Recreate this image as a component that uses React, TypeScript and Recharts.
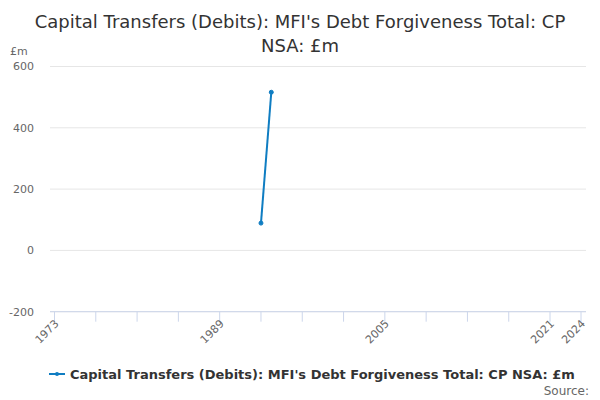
import React from "react";
import { LineChart, Line, XAxis, YAxis, CartesianGrid } from "recharts";

const years = [1993, 1994];
const values = [89, 516];
const xTicks = [1973, 1977, 1981, 1985, 1989, 1993, 1997, 2001, 2005, 2009, 2013, 2017, 2021, 2024];
const xLabels = [1973, 1989, 2005, 2021, 2024];
const yTicks = [-200, 0, 200, 400, 600];

const title1 = "Capital Transfers (Debits): MFI's Debt Forgiveness Total: CP";
const title2 = "NSA: £m";
const seriesName = "Capital Transfers (Debits): MFI's Debt Forgiveness Total: CP NSA: £m";
const unitLabel = "£m";
const sourceLabel = "Source:";

const data = years.map((y, i) => ({ year: y, value: values[i] }));

const FONT = '"DejaVu Sans", sans-serif';
const LINE_COLOR = "#0f7dc2";

const XTick = (props: any) => {
  const { x, y, payload } = props;
  if (!xLabels.includes(payload.value)) return null;
  return (
    <g transform={`translate(${x},${y})`}>
      <text
        x={0}
        y={0}
        dy={4}
        dx={3}
        textAnchor="end"
        transform="rotate(-45)"
        fill="#666666"
        fontSize={11}
        fontFamily={FONT}
      >
        {payload.value}
      </text>
    </g>
  );
};

export default function App() {
  return (
    <div style={{ position: "absolute", left: 0, top: 0, width: 600, height: 400, background: "#fff", fontFamily: FONT }}>
      <div style={{ position: "absolute", left: 0, top: 10, width: 600, textAlign: "center", fontSize: 18, color: "#333333", lineHeight: "24px" }}>
        <div>{title1}</div>
        <div>{title2}</div>
      </div>
      <div style={{ position: "absolute", left: 10, top: 45, fontSize: 11, color: "#666666" }}>{unitLabel}</div>
      <LineChart width={600} height={400} data={data} margin={{ top: 66.5, right: 14, left: 0, bottom: 0 }}>
        <CartesianGrid vertical={false} stroke="#e6e6e6" />
        <XAxis
          dataKey="year"
          type="number"
          domain={[1973, 2024]}
          ticks={xTicks}
          interval={0}
          padding={{ left: 4.5, right: 5 }}
          height={88.3}
          tickSize={10}
          tickLine={{ stroke: "#ccd6eb" }}
          axisLine={{ stroke: "#ccd6eb" }}
          tick={<XTick />}
        />
        <YAxis
          type="number"
          domain={[-200, 600]}
          ticks={yTicks}
          width={50}
          tickSize={0}
          tickMargin={16}
          axisLine={false}
          tickLine={false}
          tick={{ fill: "#666666", fontSize: 11, fontFamily: FONT }}
        />
        <Line
          dataKey="value"
          stroke={LINE_COLOR}
          strokeWidth={2}
          dot={{ r: 2, fill: LINE_COLOR, stroke: LINE_COLOR, strokeWidth: 1 }}
          isAnimationActive={false}
        />
      </LineChart>
      <div style={{ position: "absolute", left: 48, top: 366, display: "flex", alignItems: "center", fontSize: 13, fontWeight: "bold", color: "#333333" }}>
        <svg width={18} height={16} style={{ marginRight: 4 }}>
          <line x1={1} y1={8} x2={17} y2={8} stroke={LINE_COLOR} strokeWidth={2} />
          <circle cx={9} cy={8} r={2} fill={LINE_COLOR} />
        </svg>
        <span>{seriesName}</span>
      </div>
      <div style={{ position: "absolute", right: 11, top: 384, fontSize: 12, color: "#666666" }}>{sourceLabel}</div>
    </div>
  );
}
